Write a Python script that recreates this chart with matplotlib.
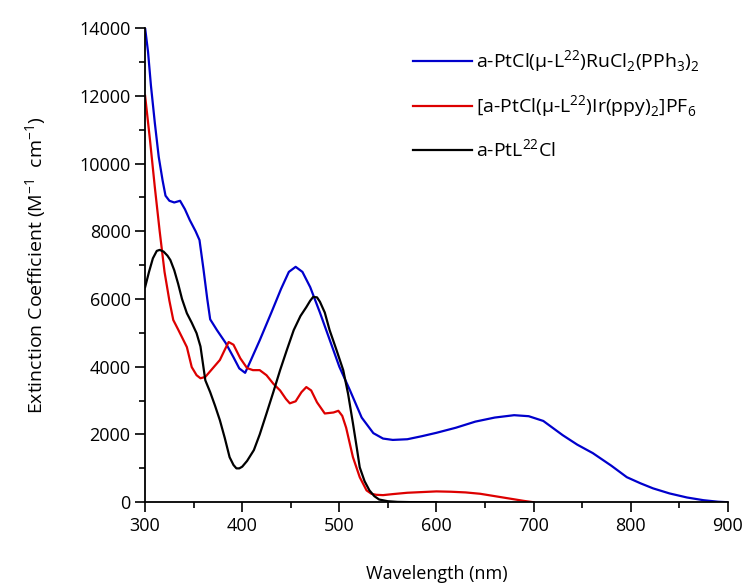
import numpy as np
import matplotlib.pyplot as plt
from matplotlib.ticker import MultipleLocator

plt.rcParams['font.family'] = ['Open Sans', 'DejaVu Sans']
plt.rcParams['mathtext.fontset'] = 'custom'
plt.rcParams['mathtext.rm'] = 'Open Sans'

# Datos
wl_ru = [300, 303, 306, 310, 314, 318, 321, 325, 330, 336, 341, 346, 352, 356, 360, 364, 367,
         374, 383, 391, 397, 403, 409, 418, 430, 440, 448, 455, 462, 470, 480, 490, 500,
         511, 523, 535, 545, 555, 570, 585, 600, 620, 640, 660, 680, 695, 710, 730, 745,
         761, 780, 796, 810, 823, 840, 858, 875, 890, 900]
ext_ru = [14000, 13300, 12300, 11200, 10200, 9500, 9050, 8900, 8850, 8900, 8650, 8330, 8000, 7740, 6900, 6000, 5400,
          5080, 4700, 4280, 3950, 3820, 4200, 4780, 5600, 6300, 6800, 6950, 6800, 6350, 5600, 4800, 4000,
          3300, 2500, 2040, 1880, 1840, 1860, 1950, 2050, 2200, 2380, 2500, 2570, 2540, 2400, 1980, 1700,
          1450, 1080, 740, 560, 410, 260, 140, 60, 15, 0]

wl_ir = [300, 305, 310, 315, 320, 325, 329, 334, 338, 343, 348, 353, 357, 362, 368, 377, 382, 386,
         391, 398, 405, 411, 418, 425, 432, 439, 445, 449, 455, 461, 466, 471, 477, 485, 494, 499,
         503, 507, 514, 521, 528, 533, 538, 545, 555, 570, 585, 600, 615, 630, 645, 660, 675, 690, 700]
ext_ir = [12000, 10700, 9300, 8000, 6800, 5950, 5380, 5100, 4870, 4580, 3990, 3750, 3660, 3700, 3900, 4200, 4500, 4730,
          4650, 4250, 3960, 3900, 3900, 3750, 3500, 3300, 3050, 2920, 2980, 3250, 3400, 3300, 2950, 2620, 2650, 2700,
          2550, 2200, 1330, 740, 350, 250, 220, 210, 240, 280, 300, 320, 310, 290, 250, 180, 110, 40, 0]

wl_pt = [300, 304, 308, 312, 315, 319, 323, 326, 330, 334, 338, 343, 348, 353, 357, 362, 367, 372, 377,
         382, 387, 391, 394, 397, 400, 405, 412, 418, 425, 432, 439, 446, 453, 460, 466, 470, 473, 477,
         480, 485, 490, 497, 504, 509, 514, 518, 521, 526, 531, 536, 541, 550, 560, 580, 600]
ext_pt = [6350, 6800, 7200, 7420, 7450, 7400, 7280, 7150, 6850, 6450, 6000, 5580, 5300, 4990, 4600, 3600, 3250, 2850, 2420,
          1900, 1330, 1100, 1000, 1000, 1050, 1220, 1540, 2000, 2620, 3250, 3900, 4500, 5080, 5500, 5760, 5950, 6060, 6050,
          5920, 5600, 5080, 4500, 3900, 3200, 2330, 1600, 1030, 620, 350, 180, 80, 30, 10, 0, 0]

labels = [r"a-PtCl(μ-L$^{22}$)RuCl$_2$(PPh$_3$)$_2$",
          r"[a-PtCl(μ-L$^{22}$)Ir(ppy)$_2$]PF$_6$",
          r"a-PtL$^{22}$Cl"]

fig = plt.figure(figsize=(7.48, 5.84), dpi=100)
ax = fig.add_axes([0.194, 0.140, 0.779, 0.812])

ax.plot(wl_ru, ext_ru, color="#0000cc", lw=1.6, label=labels[0])
ax.plot(wl_ir, ext_ir, color="#dd0000", lw=1.6, label=labels[1])
ax.plot(wl_pt, ext_pt, color="black", lw=1.6, label=labels[2])

ax.set_xlim(300, 900)
ax.set_ylim(0, 14000)
ax.xaxis.set_major_locator(MultipleLocator(100))
ax.xaxis.set_minor_locator(MultipleLocator(50))
ax.yaxis.set_major_locator(MultipleLocator(2000))
ax.yaxis.set_minor_locator(MultipleLocator(1000))
ax.tick_params(which="both", direction="out", labelsize=13, width=1.2)
ax.tick_params(which="major", length=7)
ax.tick_params(which="minor", length=4)

for s in ["top", "right"]:
    ax.spines[s].set_visible(False)
for s in ["left", "bottom"]:
    ax.spines[s].set_linewidth(1.3)

ax.set_xlabel("Wavelength (nm)", fontsize=13, labelpad=22)
ax.set_ylabel(r"Extinction Coefficient (M$^{-1}$  cm$^{-1}$)", fontsize=14, labelpad=22)

ax.legend(loc="upper left", bbox_to_anchor=(0.43, 0.995), frameon=False, fontsize=14,
          handlelength=3.0, handletextpad=0.25, labelspacing=0.95)

fig.savefig("out.png", dpi=100)
